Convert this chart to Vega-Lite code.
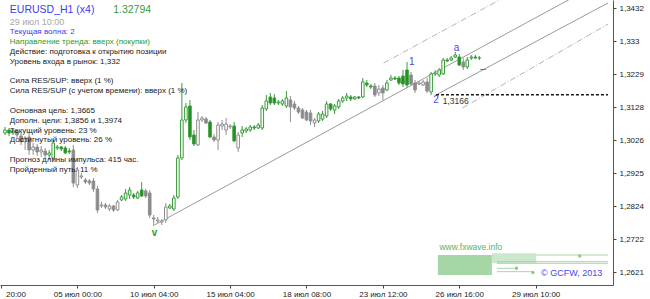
{
"$schema": "https://vega.github.io/schema/vega-lite/v6.json",
"width": 613, "height": 285,
"autosize": {"type": "none"},
"padding": {"left": 0, "top": 0, "right": 37, "bottom": 14},
"background": "white",
"config": {"view": {"stroke": null}, "font": "Liberation Sans", "axis": {"labelOverlap": false}},
"datasets": {
"candles": [
{"k":0,"o":1.30484,"c":1.30576,"h":1.30669,"l":1.30423,"ph":"u"},
{"k":1,"o":1.30576,"c":1.30484,"h":1.30638,"l":1.30392,"ph":"u"},
{"k":2,"o":1.30484,"c":1.30546,"h":1.30607,"l":1.30423,"ph":"u"},
{"k":3,"o":1.30546,"c":1.30423,"h":1.30576,"l":1.30331,"ph":"d"},
{"k":4,"o":1.30392,"c":1.30208,"h":1.30484,"l":1.30116,"ph":"d"},
{"k":5,"o":1.30208,"c":1.30331,"h":1.30392,"l":1.29962,"ph":"d"},
{"k":6,"o":1.30361,"c":1.29962,"h":1.30515,"l":1.29808,"ph":"d"},
{"k":7,"o":1.29962,"c":1.30054,"h":1.30177,"l":1.29808,"ph":"d"},
{"k":8,"o":1.30054,"c":1.29901,"h":1.30146,"l":1.29778,"ph":"d"},
{"k":9,"o":1.29901,"c":1.29962,"h":1.30085,"l":1.29747,"ph":"d"},
{"k":10,"o":1.29931,"c":1.29808,"h":1.30023,"l":1.29716,"ph":"d"},
{"k":11,"o":1.29808,"c":1.29870,"h":1.29962,"l":1.29655,"ph":"u"},
{"k":12,"o":1.29716,"c":1.30177,"h":1.30269,"l":1.29655,"ph":"u"},
{"k":13,"o":1.30023,"c":1.30054,"h":1.30116,"l":1.29962,"ph":"u"},
{"k":14,"o":1.30054,"c":1.29993,"h":1.30085,"l":1.29931,"ph":"u"},
{"k":15,"o":1.30023,"c":1.29870,"h":1.30085,"l":1.29839,"ph":"u"},
{"k":16,"o":1.29931,"c":1.29901,"h":1.30023,"l":1.29839,"ph":"u"},
{"k":17,"o":1.29962,"c":1.28948,"h":1.30116,"l":1.28825,"ph":"d"},
{"k":18,"o":1.28887,"c":1.29348,"h":1.29440,"l":1.28795,"ph":"d"},
{"k":19,"o":1.29133,"c":1.29163,"h":1.29255,"l":1.29071,"ph":"d"},
{"k":20,"o":1.29040,"c":1.28979,"h":1.29102,"l":1.28918,"ph":"d"},
{"k":21,"o":1.29010,"c":1.28948,"h":1.29071,"l":1.28887,"ph":"d"},
{"k":22,"o":1.29010,"c":1.28764,"h":1.29102,"l":1.28672,"ph":"d"},
{"k":23,"o":1.28764,"c":1.28119,"h":1.28856,"l":1.28027,"ph":"d"},
{"k":24,"o":1.28242,"c":1.28272,"h":1.28365,"l":1.28180,"ph":"d"},
{"k":25,"o":1.28272,"c":1.28211,"h":1.28334,"l":1.28150,"ph":"d"},
{"k":26,"o":1.28150,"c":1.28242,"h":1.28303,"l":1.28088,"ph":"d"},
{"k":27,"o":1.28242,"c":1.28119,"h":1.28272,"l":1.28057,"ph":"d"},
{"k":28,"o":1.28119,"c":1.28365,"h":1.28426,"l":1.28088,"ph":"d"},
{"k":29,"o":1.28426,"c":1.28518,"h":1.28580,"l":1.28395,"ph":"u"},
{"k":30,"o":1.28457,"c":1.28641,"h":1.28764,"l":1.28395,"ph":"u"},
{"k":31,"o":1.28580,"c":1.28733,"h":1.28825,"l":1.28457,"ph":"u"},
{"k":32,"o":1.28580,"c":1.28518,"h":1.28641,"l":1.28457,"ph":"u"},
{"k":33,"o":1.28487,"c":1.28641,"h":1.28703,"l":1.28457,"ph":"u"},
{"k":34,"o":1.28733,"c":1.28549,"h":1.28979,"l":1.28518,"ph":"u"},
{"k":35,"o":1.28703,"c":1.28549,"h":1.28764,"l":1.28487,"ph":"d"},
{"k":36,"o":1.28641,"c":1.27965,"h":1.28733,"l":1.27873,"ph":"d"},
{"k":37,"o":1.27873,"c":1.27842,"h":1.27965,"l":1.27627,"ph":"d"},
{"k":38,"o":1.27781,"c":1.27812,"h":1.27904,"l":1.27719,"ph":"d"},
{"k":39,"o":1.27750,"c":1.27781,"h":1.27842,"l":1.27658,"ph":"d"},
{"k":40,"o":1.27812,"c":1.28211,"h":1.28334,"l":1.27719,"ph":"d"},
{"k":41,"o":1.28180,"c":1.28242,"h":1.28303,"l":1.28150,"ph":"u"},
{"k":42,"o":1.28150,"c":1.28487,"h":1.28580,"l":1.28088,"ph":"u"},
{"k":43,"o":1.28518,"c":1.29716,"h":1.29808,"l":1.28457,"ph":"u"},
{"k":44,"o":1.29716,"c":1.30884,"h":1.32020,"l":1.29655,"ph":"u"},
{"k":45,"o":1.30884,"c":1.31283,"h":1.31406,"l":1.30791,"ph":"u"},
{"k":46,"o":1.31314,"c":1.30361,"h":1.31498,"l":1.30269,"ph":"u"},
{"k":47,"o":1.30423,"c":1.30146,"h":1.30576,"l":1.30085,"ph":"u"},
{"k":48,"o":1.30116,"c":1.30884,"h":1.31129,"l":1.30085,"ph":"d"},
{"k":49,"o":1.30884,"c":1.30945,"h":1.31007,"l":1.30822,"ph":"d"},
{"k":50,"o":1.30914,"c":1.30791,"h":1.30976,"l":1.30761,"ph":"d"},
{"k":51,"o":1.30822,"c":1.30361,"h":1.30884,"l":1.30331,"ph":"u"},
{"k":52,"o":1.30361,"c":1.30269,"h":1.30454,"l":1.30208,"ph":"d"},
{"k":53,"o":1.30269,"c":1.30730,"h":1.30822,"l":1.29962,"ph":"d"},
{"k":54,"o":1.30699,"c":1.30761,"h":1.30884,"l":1.30576,"ph":"d"},
{"k":55,"o":1.30576,"c":1.30761,"h":1.30945,"l":1.30423,"ph":"d"},
{"k":56,"o":1.30669,"c":1.30699,"h":1.30761,"l":1.30607,"ph":"d"},
{"k":57,"o":1.30699,"c":1.30239,"h":1.30822,"l":1.30208,"ph":"u"},
{"k":58,"o":1.30023,"c":1.30423,"h":1.30515,"l":1.29901,"ph":"d"},
{"k":59,"o":1.30484,"c":1.30576,"h":1.30699,"l":1.30361,"ph":"u"},
{"k":60,"o":1.30546,"c":1.30607,"h":1.30669,"l":1.30484,"ph":"u"},
{"k":61,"o":1.30576,"c":1.30669,"h":1.30730,"l":1.30515,"ph":"u"},
{"k":62,"o":1.30669,"c":1.30638,"h":1.30730,"l":1.30576,"ph":"u"},
{"k":63,"o":1.30638,"c":1.30730,"h":1.30791,"l":1.30607,"ph":"u"},
{"k":64,"o":1.30638,"c":1.31252,"h":1.31344,"l":1.30576,"ph":"u"},
{"k":65,"o":1.31222,"c":1.31467,"h":1.31652,"l":1.31160,"ph":"u"},
{"k":66,"o":1.31590,"c":1.31406,"h":1.31713,"l":1.31344,"ph":"u"},
{"k":67,"o":1.31559,"c":1.31406,"h":1.31682,"l":1.31344,"ph":"u"},
{"k":68,"o":1.31406,"c":1.31437,"h":1.31498,"l":1.31344,"ph":"u"},
{"k":69,"o":1.31375,"c":1.31467,"h":1.31529,"l":1.31314,"ph":"u"},
{"k":70,"o":1.31314,"c":1.31559,"h":1.31775,"l":1.31252,"ph":"u"},
{"k":71,"o":1.31498,"c":1.31283,"h":1.31621,"l":1.30822,"ph":"d"},
{"k":72,"o":1.31375,"c":1.31252,"h":1.31467,"l":1.31191,"ph":"d"},
{"k":73,"o":1.31252,"c":1.31129,"h":1.31314,"l":1.31068,"ph":"d"},
{"k":74,"o":1.31191,"c":1.30945,"h":1.31252,"l":1.30914,"ph":"d"},
{"k":75,"o":1.31129,"c":1.30884,"h":1.31191,"l":1.30853,"ph":"d"},
{"k":76,"o":1.31099,"c":1.30853,"h":1.31191,"l":1.30730,"ph":"d"},
{"k":77,"o":1.30791,"c":1.30884,"h":1.30945,"l":1.30669,"ph":"d"},
{"k":78,"o":1.30853,"c":1.31068,"h":1.31129,"l":1.30791,"ph":"u"},
{"k":79,"o":1.30914,"c":1.31068,"h":1.31160,"l":1.30853,"ph":"u"},
{"k":80,"o":1.31007,"c":1.31375,"h":1.31467,"l":1.30945,"ph":"u"},
{"k":81,"o":1.31375,"c":1.31222,"h":1.31406,"l":1.31160,"ph":"u"},
{"k":82,"o":1.31191,"c":1.31314,"h":1.31375,"l":1.31068,"ph":"u"},
{"k":83,"o":1.31283,"c":1.31467,"h":1.31529,"l":1.31222,"ph":"u"},
{"k":84,"o":1.31467,"c":1.31559,"h":1.31621,"l":1.31406,"ph":"u"},
{"k":85,"o":1.31559,"c":1.31621,"h":1.31713,"l":1.31467,"ph":"u"},
{"k":86,"o":1.31590,"c":1.31529,"h":1.31652,"l":1.31467,"ph":"u"},
{"k":87,"o":1.31529,"c":1.31590,"h":1.31621,"l":1.31498,"ph":"u"},
{"k":88,"o":1.31590,"c":1.31559,"h":1.31621,"l":1.31529,"ph":"u"},
{"k":89,"o":1.31590,"c":1.32051,"h":1.32174,"l":1.31559,"ph":"u"},
{"k":90,"o":1.32020,"c":1.31959,"h":1.32112,"l":1.31897,"ph":"u"},
{"k":91,"o":1.31928,"c":1.31897,"h":1.31990,"l":1.31836,"ph":"u"},
{"k":92,"o":1.31928,"c":1.31652,"h":1.32020,"l":1.31590,"ph":"d"},
{"k":93,"o":1.31713,"c":1.31836,"h":1.31959,"l":1.31621,"ph":"d"},
{"k":94,"o":1.31867,"c":1.31713,"h":1.31959,"l":1.31498,"ph":"d"},
{"k":95,"o":1.31805,"c":1.32020,"h":1.32112,"l":1.31775,"ph":"u"},
{"k":96,"o":1.32112,"c":1.32174,"h":1.32266,"l":1.32082,"ph":"u"},
{"k":97,"o":1.32174,"c":1.32143,"h":1.32235,"l":1.32112,"ph":"u"},
{"k":98,"o":1.32174,"c":1.32020,"h":1.32235,"l":1.31959,"ph":"u"},
{"k":99,"o":1.32235,"c":1.31990,"h":1.32420,"l":1.31897,"ph":"u"},
{"k":100,"o":1.32420,"c":1.31959,"h":1.32665,"l":1.31867,"ph":"u"},
{"k":101,"o":1.32266,"c":1.31990,"h":1.32358,"l":1.31928,"ph":"d"},
{"k":102,"o":1.32020,"c":1.31805,"h":1.32112,"l":1.31713,"ph":"d"},
{"k":103,"o":1.31990,"c":1.32020,"h":1.32082,"l":1.31959,"ph":"d"},
{"k":104,"o":1.31959,"c":1.32051,"h":1.32112,"l":1.31928,"ph":"d"},
{"k":105,"o":1.32051,"c":1.31775,"h":1.32174,"l":1.31713,"ph":"d"},
{"k":106,"o":1.31744,"c":1.32297,"h":1.32358,"l":1.31652,"ph":"u"},
{"k":107,"o":1.32297,"c":1.32327,"h":1.32420,"l":1.32235,"ph":"u"},
{"k":108,"o":1.32266,"c":1.32420,"h":1.32481,"l":1.32205,"ph":"u"},
{"k":109,"o":1.32297,"c":1.32727,"h":1.32788,"l":1.32266,"ph":"u"},
{"k":110,"o":1.32727,"c":1.32696,"h":1.32788,"l":1.32665,"ph":"u"},
{"k":111,"o":1.32727,"c":1.32788,"h":1.32850,"l":1.32696,"ph":"u"},
{"k":112,"o":1.32819,"c":1.32880,"h":1.32973,"l":1.32788,"ph":"u"},
{"k":113,"o":1.32819,"c":1.32573,"h":1.32911,"l":1.32542,"ph":"u"},
{"k":114,"o":1.32665,"c":1.32512,"h":1.32788,"l":1.32420,"ph":"d"},
{"k":115,"o":1.32512,"c":1.32727,"h":1.32819,"l":1.32450,"ph":"u"},
{"k":116,"o":1.32788,"c":1.32819,"h":1.32880,"l":1.32727,"ph":"u"},
{"k":117,"o":1.32819,"c":1.32788,"h":1.32880,"l":1.32758,"ph":"u"},
{"k":118,"o":1.32788,"c":1.32794,"h":1.32850,"l":1.32727,"ph":"u"}
],
"solidLines": [{"id":"A","k":37.2,"p":1.27658},{"id":"A","k":150,"p":1.35234},{"id":"C","k":107.2,"p":1.31652},{"id":"C","k":150,"p":1.34478}],
"dashLines": [{"id":"D","k":113.8,"p":1.31252},{"id":"D","k":150,"p":1.3383},{"id":"E","k":94.2,"p":1.32635},{"id":"E","k":150,"p":1.36383}],
"level": [{"k1":107.2,"k2":150,"p":1.3166}],
"waveLabels": [{"k":101.2,"p":1.32665,"t":"1"},{"k":107.2,"p":1.31498,"t":"2"},{"k":112.3,"p":1.33095,"t":"a"},{"k":118.9,"p":1.3245,"t":"–"}],
"levelLabel": [{"k":108.9,"p":1.31467,"t":"1,3166"}],
"vLabel": [{"k":37.2,"p":1.27412,"t":"v"}],
"wmSolid": [{"k1":107.67,"k2":121.12,"p1":1.26736,"p2":1.26122}],
"wmHatch": [{"k1":121.12,"k2":132.14,"p1":1.26789,"p2":1.26481}],
"wmLines": [{"k1":132.14,"k2":150,"p":1.26736},{"k1":122.35,"k2":150,"p":1.26531},{"k1":122.35,"k2":150,"p":1.26481},{"k1":122.35,"k2":127.24,"p":1.26328},{"k1":122.35,"k2":131.33,"p":1.26223}],
"wmDots": [{"k":142.97,"p":1.26706},{"k":127.24,"p":1.26328},{"k":131.33,"p":1.26199}],
"wmSite": [{"k":108.08,"p":1.26973,"t":"www.fxwave.info"}],
"wmCopy": [{"k":133.36,"p":1.26193,"t":"© GCFW, 2013"}],
"info": [
{"n":0,"t":"Текущая волна: 2","kind":"wave"},
{"n":1,"t":"Направление тренда: вверх (покупки)","kind":"trend"},
{"n":2,"t":"Действие: подготовка к открытию позиции","kind":"info"},
{"n":3,"t":"Уровень входа в рынок: 1,332","kind":"info"},
{"n":5,"t":"Сила RES/SUP: вверх (1 %)","kind":"info"},
{"n":6,"t":"Сила RES/SUP (с учетом времени): вверх (1 %)","kind":"info"},
{"n":8,"t":"Основная цель: 1,3665","kind":"info"},
{"n":9,"t":"Дополн. цели:    1,3856 и 1,3974","kind":"info"},
{"n":10,"t":"Текущий уровень: 23 %","kind":"info"},
{"n":11,"t":"Достигнутый уровень: 26 %","kind":"info"},
{"n":13,"t":"Прогноз длины импульса: 415 час.","kind":"info"},
{"n":14,"t":"Пройденный путь: 11 %","kind":"info"}
],
"title": [{"n":-2.23,"k":1.2,"t":"EURUSD_H1 (x4)","kind":"symbol"},{"n":-2.23,"k":26.9,"t":"1.32794","kind":"price"}],
"date": [{"n":-1.01,"k":1.2,"t":"29 июл 10:00","kind":"date"}]
},
"layer": [
{
"layer": [
{"data": {"name": "candles"}, "mark": {"type": "rule", "strokeWidth": 1},
 "encoding": {
  "x": {"field": "k", "type": "quantitative", "scale": {"domain": [0, 150], "nice": false, "zero": false},
   "axis": {"values": [-1, 18, 37, 56, 75, 94, 113, 132], "tickCount": 40,
    "labelExpr": "['20:00','05 июл 00:00','10 июл 04:00','15 июл 04:00','18 июл 08:00','23 июл 12:00','26 июл 16:00','29 июл 10:00'][(datum.value + 1) / 19]",
    "labelAlign": {"condition": {"test": "datum.value < 0", "value": "left"}, "value": "center"},
    "labelOffset": {"condition": {"test": "datum.value < 0", "value": 4.5}, "value": 0},
    "title": null, "grid": false, "labelFontSize": 8, "labelColor": "#222", "tickSize": 3, "tickColor": "#444", "domainColor": "#555",
    "labelFlush": false, "labelOverlap": false, "labelBound": false, "labelPadding": 2}},
  "y": {"field": "l", "type": "quantitative", "scale": {"domain": [1.25814, 1.3457], "nice": false, "zero": false},
   "axis": {"orient": "right", "values": [1.2621, 1.2722, 1.2824, 1.2925, 1.3026, 1.3128, 1.3229, 1.333, 1.3432], "tickCount": 40,
    "labelExpr": "replace(format(datum.value, '.4~f'), '.', ',')",
    "title": null, "grid": false, "labelFontSize": 8, "labelColor": "#222", "tickSize": 3, "tickColor": "#444", "domainColor": "#555",
    "labelFlush": false, "labelOverlap": false, "labelPadding": 3}},
  "y2": {"field": "h"},
  "stroke": {"field": "ph", "type": "nominal", "scale": {"domain": ["u", "d"], "range": ["#3a9d3a", "#8f8f8f"]}, "legend": null}}},
{"data": {"name": "solidLines"}, "mark": {"type": "line", "color": "#9a9a9a", "strokeWidth": 1, "clip": true},
 "encoding": {"x": {"field": "k", "type": "quantitative"},
  "y": {"field": "p", "type": "quantitative"},
  "detail": {"field": "id"}}},
{"data": {"name": "dashLines"}, "mark": {"type": "line", "color": "#b4b4b4", "strokeWidth": 1, "strokeDash": [6, 2, 1, 2], "clip": true},
 "encoding": {"x": {"field": "k", "type": "quantitative"}, "y": {"field": "p", "type": "quantitative"}, "detail": {"field": "id"}}},
{"data": {"name": "wmSolid"}, "mark": {"type": "rect", "color": "#a6d6a6"},
 "encoding": {"x": {"field": "k1", "type": "quantitative"}, "x2": {"field": "k2"}, "y": {"field": "p1", "type": "quantitative"}, "y2": {"field": "p2"}}},
{"data": {"name": "wmHatch"}, "mark": {"type": "rect", "color": "#cce8cc"},
 "encoding": {"x": {"field": "k1", "type": "quantitative"}, "x2": {"field": "k2"}, "y": {"field": "p1", "type": "quantitative"}, "y2": {"field": "p2"}}},
{"data": {"name": "wmLines"}, "mark": {"type": "rule", "color": "#a6d6a6", "strokeWidth": 1},
 "encoding": {"x": {"field": "k1", "type": "quantitative"}, "x2": {"field": "k2"}, "y": {"field": "p", "type": "quantitative"}}},
{"data": {"name": "wmDots"}, "mark": {"type": "point", "filled": true, "color": "#8cc98c", "size": 12, "opacity": 1},
 "encoding": {"x": {"field": "k", "type": "quantitative"}, "y": {"field": "p", "type": "quantitative"}}},
{"data": {"name": "wmSite"}, "mark": {"type": "text", "align": "left", "baseline": "middle", "fontSize": 8.5, "color": "#5cb35c"},
 "encoding": {"x": {"field": "k", "type": "quantitative"}, "y": {"field": "p", "type": "quantitative"}, "text": {"field": "t"}}},
{"data": {"name": "wmCopy"}, "mark": {"type": "text", "align": "left", "baseline": "middle", "fontSize": 9, "color": "#4646f0"},
 "encoding": {"x": {"field": "k", "type": "quantitative"}, "y": {"field": "p", "type": "quantitative"}, "text": {"field": "t"}}},
{"data": {"name": "level"}, "mark": {"type": "rule", "color": "#1a1a1a", "strokeWidth": 1.5, "strokeDash": [3, 2]},
 "encoding": {"x": {"field": "k1", "type": "quantitative"}, "x2": {"field": "k2"}, "y": {"field": "p", "type": "quantitative"}}},
{"data": {"name": "candles"}, "mark": {"type": "bar", "size": 2.6, "strokeWidth": 1},
 "encoding": {
  "x": {"field": "k", "type": "quantitative"},
  "y": {"field": "o", "type": "quantitative"},
  "y2": {"field": "c"},
  "stroke": {"field": "ph", "type": "nominal", "scale": {"domain": ["u", "d"], "range": ["#3a9d3a", "#8f8f8f"]}, "legend": null},
  "fill": {"condition": {"test": "datum.c > datum.o", "value": "white"}, "field": "ph", "type": "nominal", "scale": {"domain": ["u", "d"], "range": ["#238c23", "#8a8a8a"]}, "legend": null}}},
{"data": {"name": "waveLabels"}, "mark": {"type": "text", "align": "center", "baseline": "middle", "fontSize": 10, "color": "#4646f0"},
 "encoding": {"x": {"field": "k", "type": "quantitative"}, "y": {"field": "p", "type": "quantitative"}, "text": {"field": "t"}}},
{"data": {"name": "levelLabel"}, "mark": {"type": "text", "align": "left", "baseline": "middle", "fontSize": 8.5, "color": "#333"},
 "encoding": {"x": {"field": "k", "type": "quantitative"}, "y": {"field": "p", "type": "quantitative"}, "text": {"field": "t"}}},
{"data": {"name": "vLabel"}, "mark": {"type": "text", "align": "center", "baseline": "middle", "fontSize": 10, "fontWeight": "bold", "color": "#2e9a2e"},
 "encoding": {"x": {"field": "k", "type": "quantitative"}, "y": {"field": "p", "type": "quantitative"}, "text": {"field": "t"}}}
]
},
{
"layer": [
{"data": {"name": "info"}, "mark": {"type": "text", "align": "left", "baseline": "middle", "fontSize": 8},
 "encoding": {"x": {"datum": 1.2, "type": "quantitative"},
  "y": {"field": "n", "type": "quantitative", "scale": {"domain": [25.66, -3.245], "nice": false, "zero": false}, "axis": null},
  "text": {"field": "t"},
  "color": {"field": "kind", "type": "nominal", "scale": {"domain": ["wave", "trend", "info", "symbol", "price", "date"], "range": ["#3c3cf0", "#2a9a2a", "#1a1a1a", "#3c3cf0", "#3a9a3a", "#a8a8a8"]}, "legend": null}}},
{"data": {"name": "title"}, "mark": {"type": "text", "align": "left", "baseline": "middle", "fontSize": 10.5},
 "encoding": {"x": {"field": "k", "type": "quantitative"},
  "y": {"field": "n", "type": "quantitative", "axis": null},
  "text": {"field": "t"},
  "color": {"field": "kind", "type": "nominal", "legend": null}}},
{"data": {"name": "date"}, "mark": {"type": "text", "align": "left", "baseline": "middle", "fontSize": 9},
 "encoding": {"x": {"field": "k", "type": "quantitative"},
  "y": {"field": "n", "type": "quantitative", "axis": null},
  "text": {"field": "t"},
  "color": {"field": "kind", "type": "nominal", "legend": null}}}
]
}
],
"resolve": {"scale": {"y": "independent", "color": "independent"}}
}
